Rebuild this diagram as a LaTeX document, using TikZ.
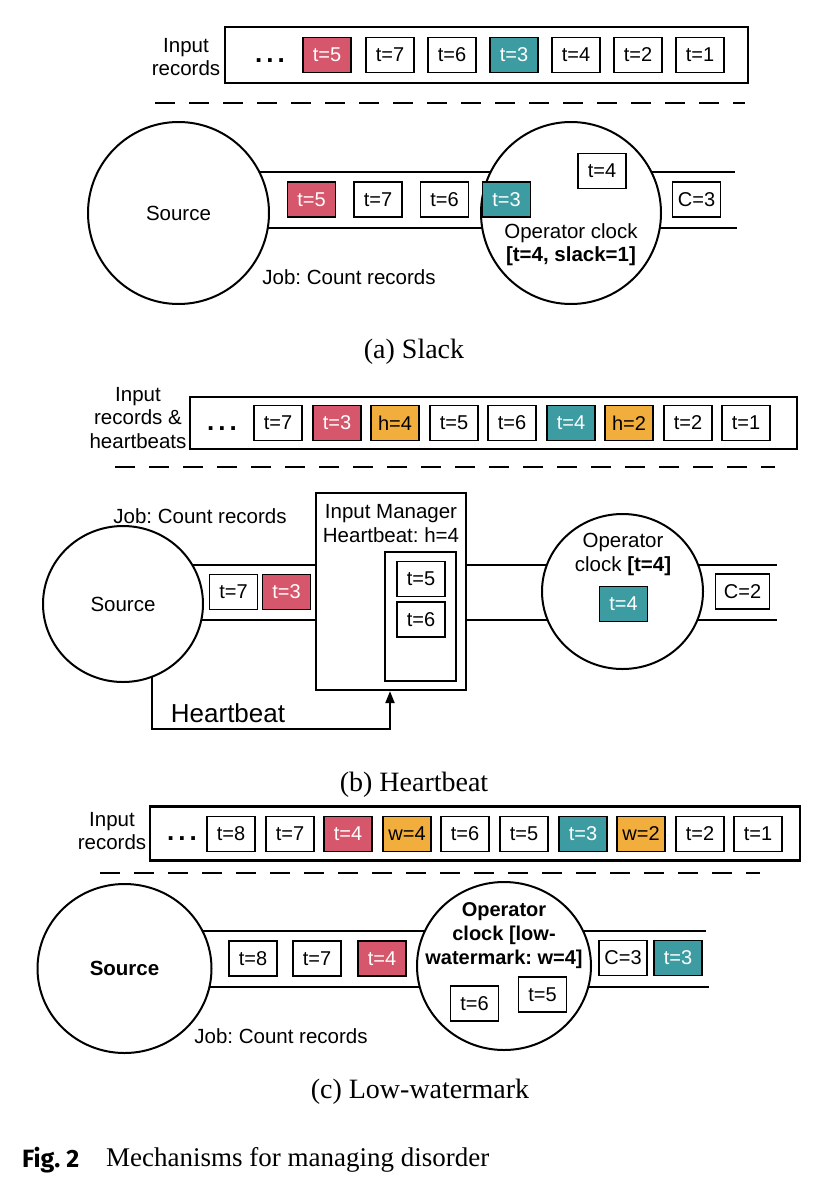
\documentclass[tikz,border=0pt]{standalone}
\usepackage{fontspec}
\setmainfont{Liberation Serif}
\setsansfont{Liberation Sans}
\newfontfamily\figfont{Fira Sans}
\usetikzlibrary{shapes.geometric,arrows.meta}
\definecolor{recred}{HTML}{D6566B}
\definecolor{recteal}{HTML}{3D9CA1}
\definecolor{recorange}{HTML}{F1AE3D}
\frenchspacing
\begin{document}
\begin{tikzpicture}[x=1pt,y=-1pt,
 lab/.style={font=\fontsize{20.5}{23.5}\selectfont\sffamily, align=center, inner sep=0pt},
 rec/.style={draw, line width=1.9pt, minimum width=48pt, minimum height=35pt, inner sep=0pt, fill=white, font=\fontsize{20}{22}\selectfont\sffamily},
 recR/.style={rec, fill=recred, text=white},
 recT/.style={rec, fill=recteal, text=white},
 recO/.style={rec, fill=recorange},
 frame/.style={draw, line width=2.3pt, inner sep=0pt},
 oval/.style={ellipse, draw, line width=2pt, fill=white, inner sep=0pt, font=\fontsize{20.5}{23.5}\selectfont\sffamily},
 chan/.style={line width=2pt},
 sepline/.style={line width=2.8pt, dash pattern=on 20pt off 14pt},
 dots/.style={font=\fontsize{26}{26}\selectfont\sffamily\bfseries, inner sep=0pt},
 subcap/.style={font=\fontsize{28}{32}\selectfont\rmfamily, inner sep=0pt}
]
\useasboundingbox (0,0) rectangle (828,1186);

% ================= (a) Slack =================
\node[lab] (inA) at (186,57) {Input\\records};
\node[frame, minimum width=523pt, minimum height=56pt] (rowA) at (486.5,55) {};
\node[dots] (dotsA) at (270,61) {.\hspace{4pt}.\hspace{4pt}.};
\node[recR] (a1) at (327,55) {t=5};
\node[rec]  (a2) at (390,55) {t=7};
\node[rec]  (a3) at (452,55) {t=6};
\node[recT] (a4) at (514,55) {t=3};
\node[rec]  (a5) at (576,55) {t=4};
\node[rec]  (a6) at (638,55) {t=2};
\node[rec]  (a7) at (700,55) {t=1};
\draw[sepline] (155,103) -- (745,103);

\coordinate (aS) at (178.5,213);
\coordinate (aO) at (571,213);
\coordinate (aE1) at (735,172);
\coordinate (aE2) at (737,228);
\draw[chan] (aS |- aE1) -- (aE1);
\draw[chan] (aS |- aE2) -- (aE2);
\node[oval, minimum width=181pt, minimum height=182pt] (srcA) at (aS) {Source};
\node[oval, minimum width=180pt, minimum height=182pt] (opA) at (aO) {};
\node[recR] (c1) at (311.5,199.5) {t=5};
\node[rec]  (c2) at (378,199.5) {t=7};
\node[rec]  (c3) at (444.5,199.5) {t=6};
\node[recT] (c4) at (506.5,199.5) {t=3};
\node[rec]  (c5) at (602,171) {t=4};
\node[rec]  (c6) at (696.5,199.5) {C=3};
\node[lab] (clkA) at (571,244.5) {Operator clock\\\textbf{[t=4, slack=1]}};
\node[lab] (jobA) at (349,277) {Job: Count records};
\node[subcap] (capA) at (414,352) {(a) Slack};

% ================= (b) Heartbeat =================
\node[lab] (inB) at (138,418) {Input\\records \&\\heartbeats};
\node[frame, minimum width=607pt, minimum height=52pt] (rowB) at (493.5,423) {};
\node[dots] (dotsB) at (222,429) {.\hspace{4pt}.\hspace{4pt}.};
\node[rec]  (b1) at (278,423) {t=7};
\node[recR] (b2) at (337,423) {t=3};
\node[recO] (b3) at (395,423) {h=4};
\node[rec]  (b4) at (454,423) {t=5};
\node[rec]  (b5) at (512,423) {t=6};
\node[recT] (b6) at (571,423) {t=4};
\node[recO] (b7) at (629,423) {h=2};
\node[rec]  (b8) at (688,423) {t=2};
\node[rec]  (b9) at (746,423) {t=1};
\draw[sepline] (115,467) -- (775,467);

\node[lab] (jobB) at (200,516) {Job: Count records};
\coordinate (bS) at (123,604);
\coordinate (bO) at (622.5,591.5);
\coordinate (bIML1) at (316,565);
\coordinate (bIML2) at (316,620);
\coordinate (bIMR1) at (466,565);
\coordinate (bIMR2) at (466,620);
\coordinate (bE1) at (777,565);
\coordinate (bE2) at (777,620);
\draw[chan] (bS |- bIML1) -- (bIML1);
\draw[chan] (bS |- bIML2) -- (bIML2);
\draw[chan] (bIMR1) -- (bE1);
\draw[chan] (bIMR2) -- (bE2);
\coordinate (hbStart) at (152,640);
\coordinate (hbCorner) at (152,729);
\node[draw, line width=2.2pt, minimum width=150pt, minimum height=197pt, inner sep=0pt] (im) at (391,591.5) {};
\draw[chan, -{Triangle[length=12pt,width=9pt]}] (hbStart) -- (hbCorner) -| (im.south -| 390,0);
\node[oval, minimum width=160pt, minimum height=156pt] (srcB) at (bS) {Source};
\node[oval, minimum width=161pt, minimum height=155pt] (opB) at (bO) {};
\node[lab] (imt) at (391,523.5) {Input Manager\\Heartbeat: h=4};
\node[draw, line width=2.2pt, minimum width=71pt, minimum height=129pt, inner sep=0pt] (buf) at (420.5,616.5) {};
\node[rec]  (d3) at (421,579) {t=5};
\node[rec]  (d4) at (421,619.5) {t=6};
\node[rec]  (d1) at (233.5,592) {t=7};
\node[recR] (d2) at (286.5,592) {t=3};
\node[lab] (clkB) at (623,554.5) {Operator\\clock \textbf{[t=4]}};
\node[recT] (d5) at (623.5,604) {t=4};
\node[rec, minimum width=54pt]  (d6) at (742.5,591.5) {C=2};
\node[font=\fontsize{26}{30}\selectfont\sffamily, inner sep=0pt] (hbt) at (228,713) {Heartbeat};
\node[subcap] (capB) at (414,785) {(b) Heartbeat};

% ================= (c) Low-watermark =================
\node[lab] (inC) at (112,831) {Input\\records};
\node[frame, minimum width=650pt, minimum height=54pt] (rowC) at (475,833.5) {};
\node[dots] (dotsC) at (182,839) {.\hspace{4pt}.\hspace{4pt}.};
\node[rec]  (e1) at (231,834) {t=8};
\node[rec]  (e2) at (290,834) {t=7};
\node[recR] (e3) at (348,834) {t=4};
\node[recO] (e4) at (407,834) {w=4};
\node[rec]  (e5) at (465,834) {t=6};
\node[rec]  (e6) at (524,834) {t=5};
\node[recT] (e7) at (583,834) {t=3};
\node[recO] (e8) at (641,834) {w=2};
\node[rec]  (e9) at (700,834) {t=2};
\node[rec]  (e10) at (758,834) {t=1};
\draw[sepline] (100,873) -- (760,873);

\coordinate (cS) at (124.5,968.5);
\coordinate (cO) at (504,966);
\coordinate (cE1) at (706,931);
\coordinate (cE2) at (709,987);
\draw[chan] (cS |- cE1) -- (cE1);
\draw[chan] (cS |- cE2) -- (cE2);
\node[oval, minimum width=174pt, minimum height=169pt, font=\fontsize{20.5}{23.5}\selectfont\sffamily\bfseries] (srcC) at (cS) {Source};
\node[oval, minimum width=174pt, minimum height=168pt] (opC) at (cO) {};
\node[rec]  (f1) at (253,958.5) {t=8};
\node[rec]  (f2) at (317,958.5) {t=7};
\node[recR] (f3) at (382,958.5) {t=4};
\node[lab, font=\fontsize{20}{24}\selectfont\sffamily\bfseries] (clkC) at (504,936) {Operator\\clock [low-\\watermark: w=4]};
\node[rec]  (f4) at (474.5,1003.5) {t=6};
\node[rec]  (f5) at (542.5,994.5) {t=5};
\node[rec]  (f6) at (623,958) {C=3};
\node[recT] (f7) at (678,958) {t=3};
\node[lab] (jobC) at (281,1036) {Job: Count records};
\node[subcap] (capC) at (420,1092) {(c) Low-watermark};

% ================= figure caption =================
\node[anchor=west, inner sep=0pt, font=\fontsize{25}{28}\selectfont\figfont\bfseries] (figlab) at (22,1160) {Fig. 2};
\node[anchor=west, inner sep=0pt, font=\fontsize{27}{30}\selectfont\rmfamily] (figtxt) at (106,1160) {Mechanisms for managing disorder};
\end{tikzpicture}
\end{document}
